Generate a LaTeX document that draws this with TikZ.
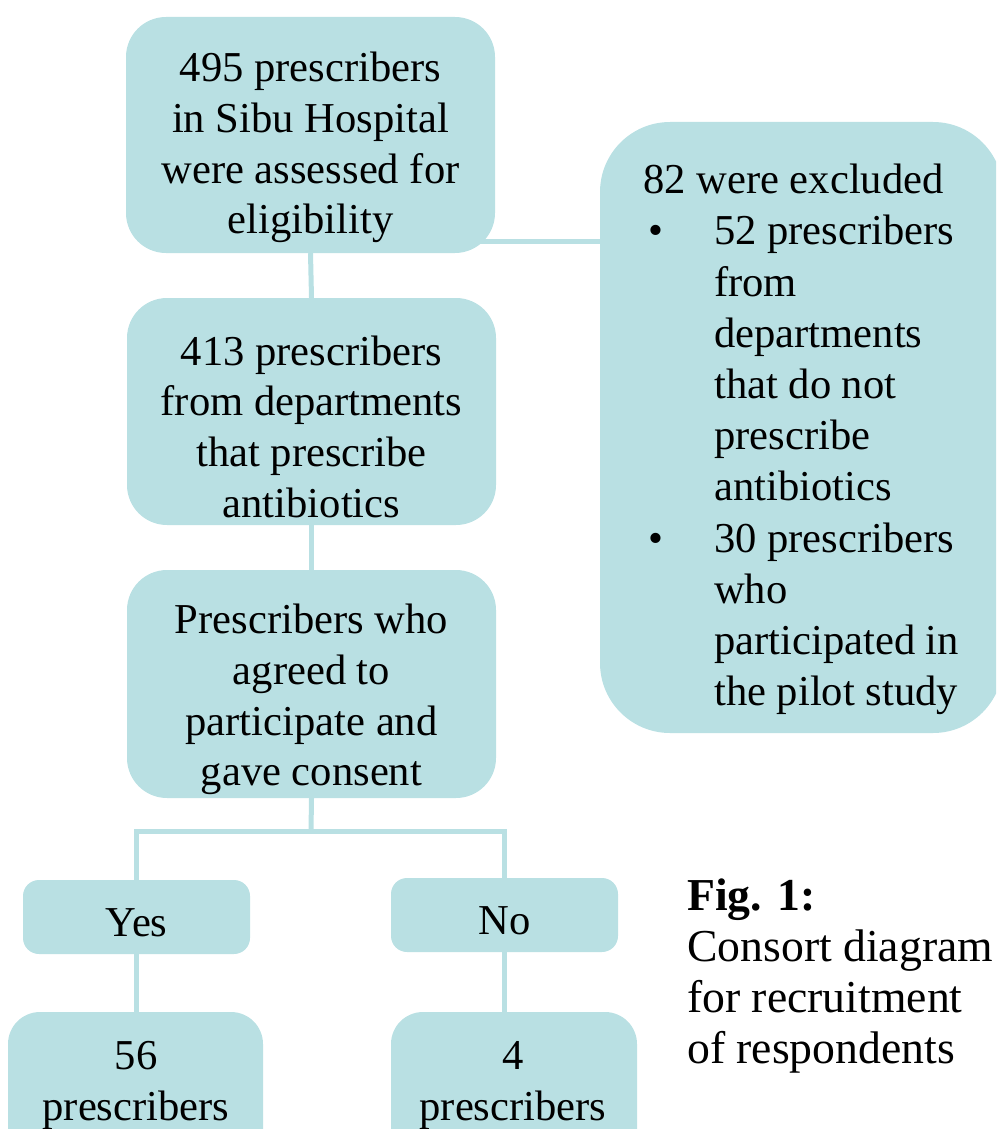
\documentclass[tikz,border=0pt]{standalone}
\usepackage{fontspec}
\setmainfont{Liberation Serif}
\usetikzlibrary{backgrounds}
\definecolor{boxc}{RGB}{185,224,227}
\begin{document}
\begin{tikzpicture}[x=1pt,y=-1pt,
  box/.style={fill=boxc,draw=none,inner sep=0pt},
  conn/.style={draw=boxc,line width=5pt},
  txt/.style={align=center,inner sep=0pt,font=\fontsize{42.6}{50.7}\selectfont},
  ltxt/.style={align=left,inner sep=0pt,anchor=west,font=\fontsize{42.6}{51.2}\selectfont},
  captxt/.style={align=left,inner sep=0pt,anchor=west,font=\fontsize{45.7}{50.7}\selectfont}]
\useasboundingbox (0,0) rectangle (996,1129);
\clip (0,0) rectangle (996,1129);
% boxes
\node[box,rounded corners=40pt,minimum width=369pt,minimum height=236pt] (b1) at (310.5,135) {};
\node[box,rounded corners=40pt,minimum width=369pt,minimum height=227pt] (b2) at (311.5,411.5) {};
\node[box,rounded corners=40pt,minimum width=369pt,minimum height=228pt] (b3) at (311.5,684) {};
\node[box,rounded corners=70pt,minimum width=403pt,minimum height=611pt] (excl) at (801.5,427.5) {};
\node[box,rounded corners=16pt,minimum width=227pt,minimum height=74pt] (yes) at (136.5,917) {};
\node[box,rounded corners=16pt,minimum width=227pt,minimum height=74pt] (no) at (504.5,915) {};
\node[box,rounded corners=32pt,minimum width=255pt,minimum height=160pt] (r56) at (135.5,1092) {};
\node[box,rounded corners=32pt,minimum width=246pt,minimum height=160pt] (r4) at (514,1092) {};
% connectors
\begin{scope}[on background layer]
\coordinate (split) at (311,831);
\draw[conn] (b1.south) -- (b2.north);
\draw[conn] (b2.south) -- (b3.north);
\draw[conn] ([xshift=-20pt,yshift=12pt]b1.south east) -- ([yshift=12pt]b1.south east -| excl.west);
\draw[conn] (b3.south) -- (split);
\draw[conn] (yes.north) |- (split) -| (no.north);
\draw[conn] (yes.south) -- (yes.south |- r56.north);
\draw[conn] (no.south) -- (no.south |- r4.north);
\end{scope}
% texts
\node[txt] (t1) at (310.5,147.5) {495 prescribers\\in Sibu Hospital\\were assessed for\\eligibility};
\node[txt] (t2) at (311.5,426.5) {413 prescribers\\from departments\\that prescribe\\antibiotics};
\node[txt] (t3) at (311.5,699.5) {Prescribers who\\agreed to\\participate and\\gave consent};
\node[ltxt] (te) at (643,439.5) {82 were excluded\\
\makebox[71pt][l]{\hspace{5pt}\textbullet}52 prescribers\\
\hspace*{71pt}from\\
\hspace*{71pt}departments\\
\hspace*{71pt}that do not\\
\hspace*{71pt}prescribe\\
\hspace*{71pt}antibiotics\\
\makebox[71pt][l]{\hspace{5pt}\textbullet}30 prescribers\\
\hspace*{71pt}who\\
\hspace*{71pt}participated in\\
\hspace*{71pt}the pilot study};
\node[txt] (tyes) at (136.5,923) {Yes};
\node[txt] (tno) at (504.5,921) {No};
\node[txt] (t56) at (136,1085.5) {56\\prescribers};
\node[txt] (t4) at (513,1085.5) {4\\prescribers};
\node[captxt] (cap) at (687,976) {\textbf{Fig. 1:}\\Consort diagram\\for recruitment\\of respondents};
\end{tikzpicture}
\end{document}
